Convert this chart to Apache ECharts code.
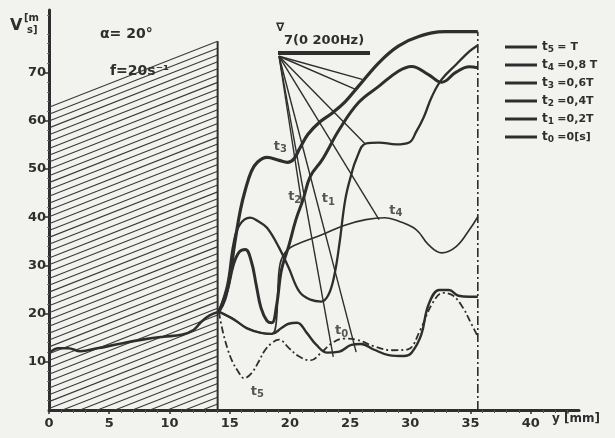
<!DOCTYPE html>
<html><head><meta charset="utf-8">
<script src="https://cdn.jsdelivr.net/npm/echarts@6/dist/echarts.min.js"></script>
<style>html,body{margin:0;padding:0;background:#f2f2ef}#c{width:615px;height:438px}</style>
</head><body><div id="c"></div>
<script>
// ---- data (x in mm, v in m/s) ----
const common = [[0,11.8],[0.8,12.8],[1.6,12.8],[2.6,12.2],[4,12.8],[6,13.8],[8,14.7],[9.5,15.2],[11,15.6],[12,16.6],[12.6,18.2],[13.3,19.6],[14.1,20.4]];
const t3 = [[14.1,20.4],[14.6,23],[15.0,27.4],[15.4,34.3],[15.9,41.6],[16.3,45.7],[16.8,49.5],[17.3,51.4],[18.1,52.4],[19.1,51.8],[19.8,51.4],[20.3,52.0],[20.8,54.2],[21.5,57.2],[22.5,59.8],[23.5,61.6],[24.6,64],[25.7,67.2],[27.4,72.1],[29.0,75.5],[30.7,77.5],[32.9,78.5],[35.6,78.5]];
const t2 = [[14.1,20.4],[14.8,24.9],[15.3,30.1],[15.8,32.8],[16.3,33.3],[16.8,30.8],[17.2,26.0],[17.6,21.2],[18.1,18.5],[18.5,18.1],[18.9,21.8],[19.3,29.1],[19.9,34],[20.5,39.5],[21.1,43.7],[21.7,48.5],[22.7,52.0],[24.1,58.2],[25.7,63.8],[27.4,67.2],[29.0,70.3],[30.1,71.3],[31.5,69.6],[32.6,68.0],[33.8,70.1],[34.9,71.2],[35.6,71.0]];
const t1 = [[14.1,20.4],[14.8,26.0],[15.3,34.3],[15.8,38.3],[16.7,39.9],[17.4,39.1],[18.1,37.8],[19.1,33.7],[19.9,29.5],[20.8,24.5],[21.7,22.9],[22.6,22.5],[23.2,23.9],[23.7,28.1],[24.1,34.3],[24.6,43.7],[25.1,48.9],[25.5,52.0],[26.3,55.3],[27.4,55.5],[28.8,55.1],[29.9,55.5],[30.5,57.8],[31.1,60.7],[31.8,65.1],[32.6,68.6],[33.8,71.7],[34.9,74.4],[35.6,75.7]];
const t4 = [[14.1,20.4],[15.4,18.7],[16.4,17.0],[17.6,16.0],[18.5,15.8],[18.9,19],[19.0,25],[19.2,30.5],[19.7,33],[20.5,34.3],[22.7,36.4],[24.5,38.3],[26.3,39.5],[27.9,39.9],[29.0,39.2],[30.5,37.4],[31.5,34.3],[32.6,32.6],[33.8,33.9],[34.9,37.4],[35.6,40.1]];
const t0 = [[14.1,20.4],[15.4,18.7],[16.4,17.0],[17.6,16.0],[18.5,15.8],[19.3,17.0],[19.9,17.9],[20.6,18.1],[21.4,16.0],[22.2,13.5],[23.1,11.9],[24.1,12.1],[25.1,13.5],[25.9,13.7],[27.0,12.5],[28.2,11.4],[29.5,11.2],[30.1,11.9],[30.9,15.6],[31.5,21.8],[32.4,24.9],[33.2,24.9],[34.0,23.7],[34.9,23.5],[35.6,23.5]];
const t5 = [[14.1,20.4],[14.4,16.6],[14.8,12.9],[15.2,10.2],[15.7,8.0],[16.2,6.6],[16.8,7.6],[17.4,10.0],[17.9,12.3],[18.5,13.9],[19.1,14.6],[19.9,12.9],[20.7,11.2],[21.7,10.3],[22.6,11.9],[23.5,13.9],[24.5,14.8],[25.5,14.6],[27,13.2],[28.5,12.4],[29.8,12.6],[30.8,16.5],[31.8,22],[32.7,24.3],[33.5,23.8],[34.3,21.5],[35.0,18.2],[35.6,15.2]];
const seriesNames = ['t5','t4','t3','t2','t1','t0'];
const legendValues = ['= T','=0,8 T','=0,6T','=0,4T','=0,2T','=0[s]'];
const yTickValues = [10,20,30,40,50,60,70];
const xTickValues = [0,5,10,15,20,25,30,35,40];
const hatchX = [0,14];
const hatchTop = [62.8,76.5];
const boundaryLine = [[35.6,0],[35.6,78.5]];
const apex = [19.1,73.4];
const rayEnds = [[26.0,68.6],[25.5,66.5],[26.3,55.1],[27.4,39.5],[21.0,42.6],[25.5,12.0],[23.6,11.0]];
const curveLabels = [[19.2,54.6,'3'],[20.4,44.2,'2'],[23.2,43.8,'1'],[28.8,41.4,'4'],[24.3,16.4,'0'],[17.3,3.8,'5']];

const INK = '#2e2e2e';
const FONT = 'DejaVu Sans';
const curveData = {t5, t4, t3, t2, t1, t0};
const curveStyle = {
  t5: {width:1.8, type:[7,3,2,3]},
  t4: {width:1.6, type:'solid'},
  t3: {width:3.2, type:'solid'},
  t2: {width:3.0, type:'solid'},
  t1: {width:2.3, type:'solid'},
  t0: {width:2.4, type:'solid'}
};

const chart = echarts.init(document.getElementById('c'));
const series = [];
series.push({type:'line', name:'common', data:common, smooth:0.4, symbol:'none',
  lineStyle:{color:INK, width:2.6}, z:5});
seriesNames.forEach(n => series.push({type:'line', name:n, data:curveData[n], smooth:0.4, symbol:'none',
  lineStyle:{color:INK, width:curveStyle[n].width, type:curveStyle[n].type}, itemStyle:{color:INK}, z:5}));
// hatched wall region
series.push({type:'custom', name:'hatch', silent:true, data:[[hatchX[0],0]], encode:{x:0,y:1}, z:2,
  renderItem:(params, api) => {
    const x0 = hatchX[0], x1 = hatchX[1], a = hatchTop[0], b = hatchTop[1];
    const m = (b - a)/(x1 - x0);
    const ch = [];
    for (let d = 0; d < b; d += 1.42) {
      let xs = x0; let vs = a - d;
      if (vs < 0) { xs = x0 + (d - a)/m; vs = 0; }
      if (xs >= x1) continue;
      const ve = b - d;
      const p1 = api.coord([xs, vs]), p2 = api.coord([x1, ve]);
      ch.push({type:'line', shape:{x1:p1[0],y1:p1[1],x2:p2[0],y2:p2[1]}, style:{stroke:'#3a3a3a', lineWidth:1.1}});
    }
    const q1 = api.coord([x1,0]), q2 = api.coord([x1,b]);
    ch.push({type:'line', shape:{x1:q1[0],y1:q1[1],x2:q2[0],y2:q2[1]}, style:{stroke:INK, lineWidth:2}});
    return {type:'group', children:ch};
  }});
// dash-dot boundary
series.push({type:'line', name:'boundary', data:boundaryLine, symbol:'none', silent:true,
  lineStyle:{color:INK, width:1.6, type:[9,3,2,3]}, z:4});
// rays of the vibrator annotation
series.push({type:'custom', name:'rays', silent:true, data:rayEnds, encode:{x:0,y:1}, z:3,
  renderItem:(params, api) => {
    const p0 = api.coord(apex), p1 = api.coord([api.value(0), api.value(1)]);
    return {type:'line', shape:{x1:p0[0],y1:p0[1],x2:p1[0],y2:p1[1]}, style:{stroke:INK, lineWidth:1.4}};
  }});
// curve labels
series.push({type:'scatter', name:'labels', silent:true, data:curveLabels, symbolSize:0, z:6,
  label:{show:true, position:'inside', formatter:p => '{t|t}{s|' + p.data[2] + '}',
    rich:{t:{fontFamily:FONT, fontWeight:'bold', fontSize:13, color:INK},
          s:{fontFamily:FONT, fontWeight:'bold', fontSize:10, color:INK, padding:[6,0,0,0]}}}});

const option = {
  backgroundColor:'#f2f2ef',
  animation:false,
  grid:{left:49, right:36, top:10, bottom:28},
  xAxis:{type:'value', min:0, max:44, interval:5,
    axisLine:{onZero:false, lineStyle:{color:INK, width:3}},
    axisTick:{show:true, length:4, inside:false, customValues:xTickValues, lineStyle:{color:INK, width:1.5}},
    minorTick:{show:true, splitNumber:5, length:3, lineStyle:{color:'#555', width:1}},
    splitLine:{show:false},
    axisLabel:{customValues:xTickValues, color:INK, fontFamily:FONT, fontWeight:'bold', fontSize:13, margin:7}},
  yAxis:{type:'value', min:0, max:83, interval:10,
    axisLine:{show:true, lineStyle:{color:INK, width:3}},
    axisTick:{show:true, length:5, customValues:yTickValues, lineStyle:{color:INK, width:1.5}},
    minorTick:{show:true, splitNumber:5, length:2, lineStyle:{color:'#777', width:1}},
    splitLine:{show:false},
    axisLabel:{customValues:yTickValues, color:INK, fontFamily:FONT, fontWeight:'bold', fontSize:13, margin:3}},
  legend:{data:seriesNames, orient:'vertical', left:500, top:36, itemWidth:32, itemHeight:3, itemGap:5,
    icon:'rect',
    formatter:n => { const i = seriesNames.indexOf(n); return '{t|t}{s|' + n.slice(1) + '} {v|' + legendValues[i] + '}'; },
    textStyle:{color:INK, rich:{
      t:{fontFamily:FONT, fontWeight:'bold', fontSize:12, color:INK},
      s:{fontFamily:FONT, fontWeight:'bold', fontSize:9, color:INK, padding:[5,0,0,0]},
      v:{fontFamily:FONT, fontWeight:'bold', fontSize:11, color:INK}}},
    itemStyle:{color:INK}},
  graphic:[
    {type:'text', left:10, top:18, style:{text:'V', font:'bold 16px "DejaVu Sans"', fill:INK}},
    {type:'text', left:24, top:13, style:{text:'[m', font:'bold 10px "DejaVu Sans"', fill:INK}},
    {type:'text', left:27, top:25, style:{text:'s]', font:'bold 10px "DejaVu Sans"', fill:INK}},
    {type:'text', left:100, top:27, style:{text:'\u03b1= 20\u00b0', font:'bold 14px "DejaVu Sans"', fill:INK}},
    {type:'text', left:110, top:64, style:{text:'f=20s\u207b\u00b9', font:'bold 14px "DejaVu Sans"', fill:INK}},
    {type:'text', left:276, top:22, style:{text:'\u2207', font:'bold 12px "DejaVu Sans"', fill:INK}},
    {type:'text', left:284, top:34, style:{text:'7(0 200Hz)', font:'bold 13px "DejaVu Sans"', fill:INK}},
    {type:'rect', left:278, top:51, shape:{width:92, height:4}, style:{fill:INK}},
    {type:'text', left:552, top:413, style:{text:'y [mm]', font:'bold 12px "DejaVu Sans"', fill:INK}}
  ],
  series:series
};
chart.setOption(option);
</script></body></html>
